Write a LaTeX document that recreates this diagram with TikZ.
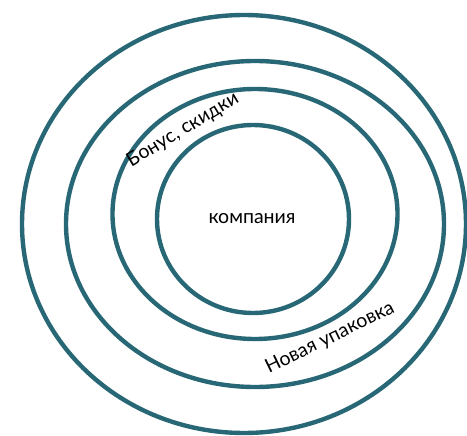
\documentclass[tikz,border=0pt]{standalone}
\usepackage{fontspec}
\setmainfont{Lato}
\definecolor{ring}{RGB}{40,104,118}
\begin{document}
\begin{tikzpicture}[x=1pt,y=-1pt,
  ringline/.style={draw=ring,line width=4.4pt},
  lbl/.style={inner sep=0pt,font=\fontsize{19.5}{22}\selectfont,text=black}]
\useasboundingbox (0,0) rectangle (467,436);
\fill[white] (0,0) rectangle (467,436);
\begin{scope}
\clip (0,0) rectangle (467,436);
\draw[ringline] (244,224) ellipse [x radius=222,y radius=209];
\draw[ringline] (255,224) ellipse [x radius=189,y radius=163];
\draw[ringline] (255,214) ellipse [x radius=142.5,y radius=125];
\draw[ringline] (253,219) ellipse [x radius=96,y radius=94];
\end{scope}
\node[lbl] (company) at (252,219) {компания};
\node[lbl,rotate=31] (bonus) at (183,130) {Бонус, скидки};
\node[lbl,rotate=26] (pack) at (330,338) {Новая упаковка};
\end{tikzpicture}
\end{document}
